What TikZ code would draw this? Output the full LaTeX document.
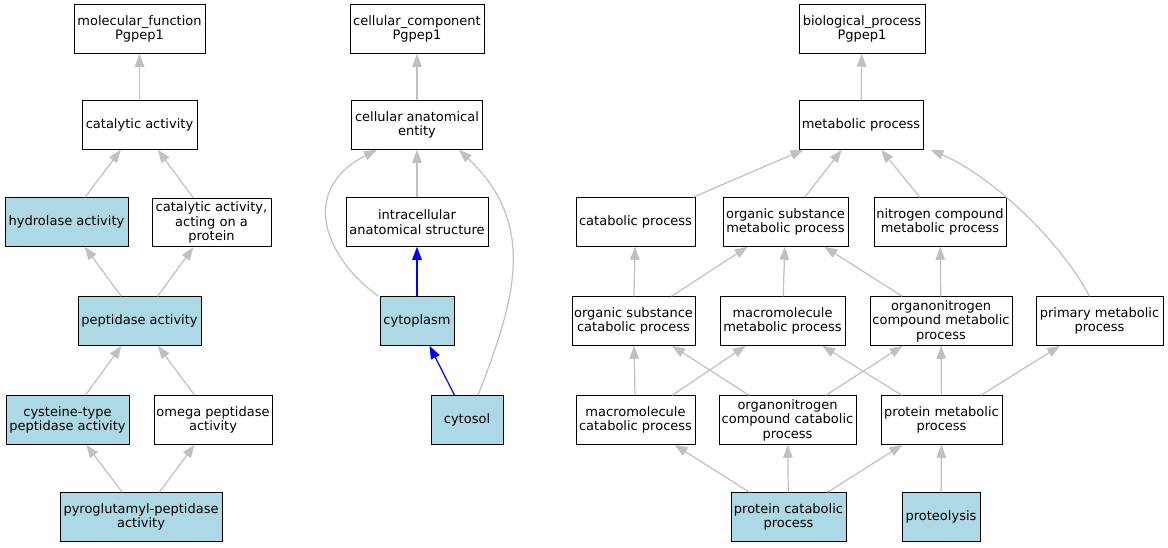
\documentclass[tikz,border=0pt]{standalone}
\usepackage{fontspec}
\setmainfont{DejaVu Sans}
\usetikzlibrary{arrows.meta}
\definecolor{lblue}{HTML}{ADD8E6}
\definecolor{egray}{HTML}{C0C0C0}
\tikzset{
  gobox/.style={draw=black, line width=1pt, fill=white, inner sep=0pt, align=center,
    minimum height=48.5pt, font=\fontsize{13}{14.5}\selectfont},
  hit/.style={gobox, fill=lblue},
  edge/.style={draw=egray, line width=1.2pt, -{Triangle[length=13pt,width=9.5pt]}},
  bedge/.style={edge, draw=blue, fill=blue},
}
\begin{document}
\begin{tikzpicture}[x=1pt,y=-1pt]
\useasboundingbox (0,0) rectangle (1168,547);
% left
\node[gobox, minimum width=131] (mf) at (139.5,29) {molecular\_function\\Pgpep1};
\node[gobox, minimum width=115] (cat) at (139.5,125) {catalytic activity};
\node[hit, minimum width=123] (hyd) at (66.5,222) {hydrolase activity};
\node[gobox, minimum width=119] (cap) at (211.5,222.5) {catalytic activity,\\acting on a\\protein};
\node[hit, minimum width=123] (pep) at (139.5,321) {peptidase activity};
\node[hit, minimum width=123] (cys) at (67.5,420) {cysteine-type\\peptidase activity};
\node[gobox, minimum width=118] (ome) at (213,420) {omega peptidase\\activity};
\node[hit, minimum width=162] (pyr) at (141,517) {pyroglutamyl-peptidase\\activity};
\draw[edge] (cat) -- (mf);
\draw[edge] (hyd) -- (cat);
\draw[edge] (cap) -- (cat);
\draw[edge] (pep) -- (hyd);
\draw[edge] (pep) -- (cap);
\draw[edge] (cys) -- (pep);
\draw[edge] (ome) -- (pep);
\draw[edge] (pyr) -- (cys);
\draw[edge] (pyr) -- (ome);
% middle
\node[gobox, minimum width=134] (cc) at (417,29) {cellular\_component\\Pgpep1};
\node[gobox, minimum width=131] (cae) at (417,125) {cellular anatomical\\entity};
\node[gobox, minimum width=142] (ias) at (417,222) {intracellular\\anatomical structure};
\node[hit, minimum width=74] (cyto) at (417,321) {cytoplasm};
\node[hit, minimum width=72] (cyts) at (467,420) {cytosol};
\draw[edge] (cae) -- (cc);
\draw[edge] (ias) -- (cae);
\draw[bedge] (cyto) -- (ias);
\draw[bedge] (cyts) -- (cyto);
\draw[edge] ([xshift=-1]cyto.north west) .. controls (325,258) and (298,190) .. ([xshift=26]cae.south west);
\draw[edge] ([xshift=11]cyts.north) .. controls (515,300) and (538,225) .. ([xshift=-24]cae.south east);
% right
\node[gobox, minimum width=126] (bp) at (862,29) {biological\_process\\Pgpep1};
\node[gobox, minimum width=124] (mp) at (861,125) {metabolic process};
\node[gobox, minimum width=119] (catp) at (635.5,222) {catabolic process};
\node[gobox, minimum width=125] (osm) at (785.5,222) {organic substance\\metabolic process};
\node[gobox, minimum width=132] (ncm) at (940,222) {nitrogen compound\\metabolic process};
\node[gobox, minimum width=123] (osc) at (633.5,321) {organic substance\\catabolic process};
\node[gobox, minimum width=125] (mmp) at (782.5,321) {macromolecule\\metabolic process};
\node[gobox, minimum width=142] (onm) at (941,321) {organonitrogen\\compound metabolic\\process};
\node[gobox, minimum width=127] (pri) at (1099.5,321) {primary metabolic\\process};
\node[gobox, minimum width=119] (mcp) at (635.5,420) {macromolecule\\catabolic process};
\node[gobox, minimum width=137] (oncp) at (787.5,420) {organonitrogen\\compound catabolic\\process};
\node[gobox, minimum width=121] (pmp) at (941.5,420) {protein metabolic\\process};
\node[hit, minimum width=115] (pcp) at (788.5,517) {protein catabolic\\process};
\node[hit, minimum width=78] (prot) at (941,517) {proteolysis};
\draw[edge] (mp) -- (bp);
\draw[edge] (catp) -- (mp);
\draw[edge] (osm) -- (mp);
\draw[edge] (ncm) -- (mp);
\draw[edge] ([xshift=-10]pri.north) .. controls (1060,240) and (990,175) .. ([xshift=7]mp.south east);
\draw[edge] (osc) -- (catp);
\draw[edge] (osc) -- (osm);
\draw[edge] (mmp) -- (osm);
\draw[edge] (onm) -- (osm);
\draw[edge] (onm) -- (ncm);
\draw[edge] (mcp) -- (osc);
\draw[edge] (mcp) -- (mmp);
\draw[edge] (oncp) -- (osc);
\draw[edge] (oncp) -- (onm);
\draw[edge] (pmp) -- (mmp);
\draw[edge] (pmp) -- (onm);
\draw[edge] (pmp) -- (pri);
\draw[edge] (pcp) -- (mcp);
\draw[edge] (pcp) -- (oncp);
\draw[edge] (pcp) -- (pmp);
\draw[edge] (prot) -- (pmp);
\end{tikzpicture}
\end{document}
